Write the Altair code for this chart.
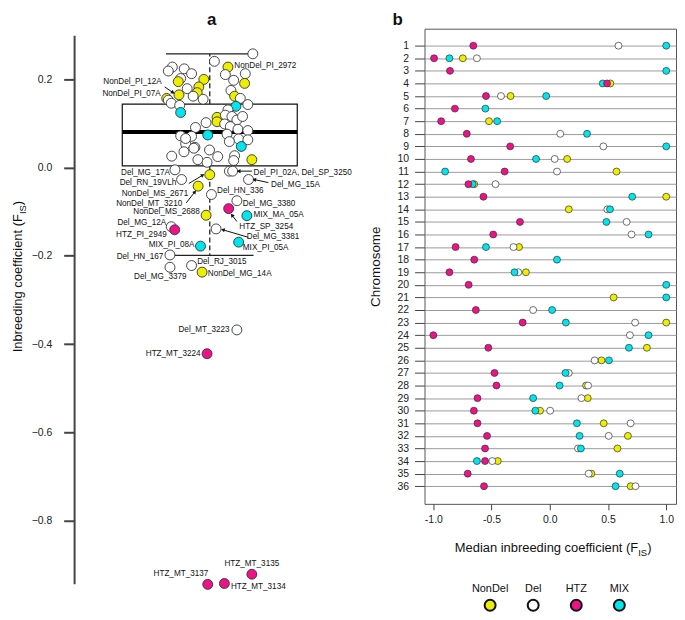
import math
import altair as alt
import pandas as pd

FONT = "Liberation Sans"
GROUPS = ["NonDel", "Del", "HTZ", "MIX"]
COLORS = ["#EEEE00", "#FFFFFF", "#EE1289", "#00E5EE"]
CODES = {"N": "NonDel", "D": "Del", "H": "HTZ", "M": "MIX"}

# ---------------- panel a : individual inbreeding coefficients ----------------
ind_group = [
    "D", "D", "D", "D", "D", "D", "N", "D", "N", "N",
    "N", "N", "D", "N", "D", "D", "D", "D", "D", "M",
    "N", "D", "D", "D", "N", "D", "N", "D", "D", "M",
    "D", "D", "N", "N", "D", "D", "D", "D", "D", "D",
    "D", "D", "D", "D", "D", "D", "D", "D", "M", "D",
    "D", "D", "D", "M", "D", "D", "D", "D", "D", "D",
    "D", "N", "D", "D",
    "D", "D", "D", "N", "D", "N", "D", "D", "D", "H",
    "M", "N", "D", "H", "D", "M", "M", "D", "D", "D",
    "N", "D", "H", "H", "H", "H",
]
ind_jitter = [
    0.492, 0.053, -0.428, -0.474, -0.292, -0.208, -0.068, -0.333, -0.360, -0.352,
    -0.492, -0.125, -0.258, -0.144, -0.190, -0.076, -0.474, -0.440, -0.344, -0.333,
    0.208, 0.178, 0.406, 0.273, 0.398, 0.242, 0.284, 0.349, 0.435, 0.299,
    0.208, -0.042, 0.083, 0.083, 0.178, 0.253, 0.310, 0.375, 0.170, 0.235,
    0.322, 0.435, -0.163, -0.333, -0.208, -0.276, -0.295, -0.170, -0.023, 0.197,
    0.330, 0.435, 0.224, 0.360, -0.003, -0.435, -0.136, -0.031, 0.091, 0.284,
    0.273, 0.481, -0.276, -0.182,
    -0.398, 0.224, 0.261, 0.000, -0.322, -0.133, 0.019, 0.443, 0.310, 0.216,
    0.424, -0.042, -0.440, -0.401, 0.072, -0.106, 0.330, -0.455, -0.208, -0.455,
    -0.088, 0.310, -0.031, 0.481, -0.023, 0.167,
]
ind_fis = [
    0.258, 0.241, 0.228, 0.219, 0.224, 0.213, 0.200, 0.202, 0.195, 0.165,
    0.157, 0.183, 0.179, 0.170, 0.162, 0.155, 0.153, 0.146, 0.141, 0.125,
    0.228, 0.211, 0.213, 0.198, 0.191, 0.175, 0.162, 0.157, 0.143, 0.139,
    0.131, 0.102, 0.114, 0.104, 0.119, 0.116, 0.108, 0.116, 0.099, 0.093,
    0.087, 0.084, 0.091, 0.072, 0.071, 0.054, 0.036, 0.046, 0.074, 0.076,
    0.065, 0.063, 0.059, 0.048, 0.040, 0.026, 0.018, 0.012, 0.025, 0.027,
    0.016, 0.018, 0.066, 0.044,
    -0.005, -0.008, -0.008, -0.016, -0.027, -0.042, -0.061, -0.027, -0.075, -0.093,
    -0.109, -0.108, -0.134, -0.141, -0.139, -0.178, -0.169, -0.198, -0.222, -0.226,
    -0.237, -0.368, -0.422, -0.922, -0.945, -0.943,
]

box_q1, box_median, box_q3 = 0.004, 0.081, 0.144
whisker_lo, whisker_hi = -0.199, 0.258
fis_axis_range = [-0.945, 0.299]
fis_ticks = [-0.8, -0.6, -0.4, -0.2, 0.0, 0.2]

lab_text = ["NonDel_PI_2972", "NonDel_PI_12A", "NonDel_PI_07A", "Del_MG_17A",
            "Del_PI_02A, Del_SP_3250", "Del_RN_19VLh", "NonDel_MS_2671", "NonDel_MT_3210",
            "Del_HN_336", "Del_MG_15A", "Del_MG_3380", "MIX_MA_05A", "HTZ_SP_3254",
            "NonDel_MS_2688", "Del_MG_12A", "HTZ_PI_2949", "Del_MG_3381", "MIX_PI_08A",
            "MIX_PI_05A", "Del_HN_167", "Del_RJ_3015", "Del_MG_3379", "NonDel_MG_14A",
            "Del_MT_3223", "HTZ_MT_3224", "HTZ_MT_3135", "HTZ_MT_3137", "HTZ_MT_3134"]
lab_x = [0.281, -0.549, -0.560, -0.455, 0.500, -0.383, -0.247, -0.315, 0.083, 0.701,
         0.378, 0.500, 0.338, -0.114, -0.497, -0.492, 0.424, -0.174, 0.378, -0.531,
         -0.144, -0.565, -0.023, 0.227, -0.106, 0.481, -0.330, 0.242]
lab_y = [0.2315, 0.195, 0.168, -0.012, -0.012, -0.035, -0.059, -0.082, -0.052, -0.039,
         -0.082, -0.108, -0.134, -0.101, -0.125, -0.152, -0.158, -0.176, -0.183, -0.202,
         -0.215, -0.249, -0.241, -0.368, -0.422, -0.898, -0.922, -0.950]
lab_align = ["left", "right", "right", "right", "left", "right", "right", "right", "left", "left",
             "left", "left", "left", "right", "right", "right", "left", "right", "left", "right",
             "left", "center", "left", "right", "right", "center", "center", "left"]

arr_x1 = [-0.515, 0.481, 0.670, -0.239, -0.269, 0.310, 0.439]
arr_y1 = [0.183, -0.008, -0.034, -0.036, -0.080, -0.122, -0.158]
arr_x2 = [-0.420, 0.330, 0.508, -0.080, -0.170, 0.254, 0.150]
arr_y2 = [0.170, -0.008, -0.027, -0.017, -0.055, -0.108, -0.141]

# ---------------- panel b : median FIS per chromosome ----------------
chromosomes = list(range(1, 37))
fis_nondel = [None, -0.747, None, 0.52, -0.337, None, -0.522, None, None, 0.149,
              0.573, -0.649, 1.0, 0.163, None, None, -0.264, None, -0.205, None,
              0.548, None, 1.0, None, 0.834, 0.444, None, 0.312, 0.326, -0.084,
              0.463, 0.671, 0.581, -0.447, 0.357, 0.694]
fis_del = [0.59, -0.626, None, None, -0.419, None, None, 0.09, 0.46, 0.042,
           0.062, -0.466, None, 0.494, 0.66, 0.702, -0.312, None, -0.27, None,
           None, -0.143, 0.733, 0.688, None, 0.385, 0.163, 0.329, 0.272, 0.003,
           0.694, 0.506, 0.242, -0.494, 0.334, 0.736]
fis_htz = [-0.657, -0.994, -0.857, 0.492, -0.548, -0.815, -0.933, -0.713, -0.34, -0.677,
           -0.388, -0.699, -0.570, None, -0.256, -0.486, -0.809, -0.649, -0.862, -0.697,
           None, -0.635, -0.233, -1.0, -0.528, None, -0.475, -0.458, -0.621, -0.652,
           -0.621, -0.539, -0.556, -0.556, -0.705, -0.565]
fis_mix = [1.0, -0.862, 1.0, 0.455, -0.031, -0.553, -0.452, 0.32, 1.0, -0.118,
           -0.899, -0.663, 0.708, 0.517, 0.486, 0.848, -0.548, 0.062, -0.303, 1.0,
           1.0, 0.02, 0.138, 0.848, 0.68, 0.508, 0.135, 0.084, -0.143, -0.124,
           0.233, 0.256, 0.267, -0.626, 0.601, 0.565]
median_ticks = [-1.0, -0.5, 0.0, 0.5, 1.0]

# ---------------- layout ----------------
W_L, H_L = 290, 559
W_R, H_R = 253, 478
X_A_DOM = [-1.545, 1.75]
Y_A_DOM = [-0.945, 0.315]
BOX_HALF, STAPLE_HALF = 1.0, 0.5

fill_scale = alt.Scale(domain=GROUPS, range=COLORS)
one = pd.DataFrame({"k": [0]})


def txt(text, x, y, size, align="left", baseline="alphabetic", angle=0, weight="normal"):
    return alt.Chart(one).mark_text(
        text=text, fontSize=size, align=align, baseline=baseline, angle=angle,
        fontWeight=weight, font=FONT, color="#111"
    ).encode(x=alt.value(x), y=alt.value(y))


# ---- panel a
xs_a = alt.Scale(domain=X_A_DOM, nice=False, zero=False)
ys_a = alt.Scale(domain=Y_A_DOM, nice=False, zero=False)
ax_a = alt.Axis(values=fis_ticks, format=".1f", domain=False, grid=False, ticks=True,
                tickSize=11, tickWidth=2, tickColor="#444", labelPadding=12,
                labelFontSize=10.5, labelColor="#222", labelFont=FONT, title="")


def XA(f):
    return alt.X(f, type="quantitative", scale=xs_a, axis=None)


def YA(f):
    return alt.Y(f, type="quantitative", scale=ys_a, axis=ax_a)


ind_df = pd.DataFrame({"grp": [CODES[c] for c in ind_group], "jit": ind_jitter, "fis": ind_fis})
box_df = pd.DataFrame({"xl": [-BOX_HALF], "xr": [BOX_HALF], "sl": [-STAPLE_HALF], "sr": [STAPLE_HALF],
                       "c": [0.0], "q1": [box_q1], "med": [box_median], "q3": [box_q3],
                       "lo": [whisker_lo], "hi": [whisker_hi]})
axis_df = pd.DataFrame({"bot": [fis_axis_range[0]], "top": [fis_axis_range[1]]})
lab_df = pd.DataFrame({"lab": lab_text, "lx": lab_x, "ly": lab_y, "al": lab_align})

sx = W_L / (X_A_DOM[1] - X_A_DOM[0])
sy = H_L / (Y_A_DOM[1] - Y_A_DOM[0])
arr_ang = [math.degrees(math.atan2((b - a) * sx, (d - c) * sy)) % 360
           for a, b, c, d in zip(arr_x1, arr_x2, arr_y1, arr_y2)]
arr_df = pd.DataFrame({"x1": arr_x1, "y1": arr_y1, "x2": arr_x2, "y2": arr_y2, "ang": arr_ang})

axis_line = alt.Chart(axis_df).mark_rule(color="#444", strokeWidth=2).encode(
    x=alt.value(0), y=YA("top"), y2=alt.Y2("bot"))
box = alt.Chart(box_df).mark_rect(fillOpacity=0, stroke="#111", strokeWidth=1.2).encode(
    x=XA("xl"), x2=alt.X2("xr"), y=YA("q3"), y2=alt.Y2("q1"))
median = alt.Chart(box_df).mark_rule(color="#000", strokeWidth=4).encode(
    x=XA("xl"), x2=alt.X2("xr"), y=YA("med"))
wh_up = alt.Chart(box_df).mark_rule(color="#222", strokeWidth=1.3, strokeDash=[5, 3]).encode(
    x=XA("c"), y=YA("q3"), y2=alt.Y2("hi"))
wh_dn = alt.Chart(box_df).mark_rule(color="#222", strokeWidth=1.3, strokeDash=[5, 3]).encode(
    x=XA("c"), y=YA("q1"), y2=alt.Y2("lo"))
st_up = alt.Chart(box_df).mark_rule(color="#222", strokeWidth=1.3).encode(
    x=XA("sl"), x2=alt.X2("sr"), y=YA("hi"))
st_dn = alt.Chart(box_df).mark_rule(color="#222", strokeWidth=1.3).encode(
    x=XA("sl"), x2=alt.X2("sr"), y=YA("lo"))
pts_a = alt.Chart(ind_df).mark_circle(size=100, stroke="#333", strokeWidth=0.9, opacity=1).encode(
    x=XA("jit"), y=YA("fis"), fill=alt.Fill("grp:N", scale=fill_scale, legend=None))
arrows = alt.Chart(arr_df).mark_rule(color="#111", strokeWidth=1).encode(
    x=XA("x1"), y=YA("y1"), x2=alt.X2("x2"), y2=alt.Y2("y2"))
heads = alt.Chart(arr_df).mark_point(shape="triangle-up", filled=True, size=18, color="#111",
                                     opacity=1).encode(
    x=XA("x2"), y=YA("y2"), angle=alt.Angle("ang:Q", scale=None))

label_layers = []
for al in ["left", "right", "center"]:
    label_layers.append(
        alt.Chart(lab_df).transform_filter(alt.datum.al == al).mark_text(
            align=al, baseline="middle", fontSize=8.2, font=FONT, color="#111").encode(
            x=XA("lx"), y=YA("ly"), text="lab:N"))

title_a = [
    txt("Inbreeding coefficient (F", -52.5, 186.5, 13, align="right", angle=270),
    txt("IS", -49, 186.5, 9.5, align="left", angle=270),
    txt(")", -52.5, 177.5, 13, align="left", angle=270),
    txt("a", 138, -17, 17, align="center", baseline="top", weight="bold"),
]

left = alt.layer(axis_line, box, wh_up, wh_dn, st_up, st_dn, median, pts_a, arrows, heads,
                 *label_layers, *title_a).properties(width=W_L, height=H_L)

# ---- panel b
rows = []
for g, vals in [("NonDel", fis_nondel), ("Del", fis_del), ("MIX", fis_mix), ("HTZ", fis_htz)]:
    for c, v in zip(chromosomes, vals):
        if v is not None:
            rows.append({"grp": g, "chrom": c, "v": v})
chrom_df = pd.DataFrame(rows)
leg_df = pd.DataFrame({"grp": GROUPS})

xs_b = alt.Scale(domain=[-1.076, 1.084], nice=False, zero=False)
ys_b = alt.Scale(domain=[-0.35, 37.4], reverse=True, nice=False, zero=False)
ax_xb = alt.Axis(values=median_ticks, format=".1f", labelExpr="replace(datum.label, '\u2212', '-')",
                 domain=False, grid=False, tickSize=6, tickColor="#444", labelPadding=5,
                 labelFontSize=10.5, labelColor="#222", labelFont=FONT, title="")
ax_yb = alt.Axis(values=chromosomes, format="d", domain=False, grid=True, gridColor="#9a9a9a",
                 gridWidth=1, tickSize=10, tickColor="#444", labelPadding=6, labelFontSize=10.5,
                 labelColor="#222", labelFont=FONT, labelOverlap=False,
                 title="Chromosome", titleFont=FONT, titleFontSize=13.5, titleFontWeight="normal",
                 titleColor="#111", titleX=-49, titleY=H_R / 2, titleAngle=270,
                 titleBaseline="middle", titleAlign="center")

pts_b = alt.Chart(chrom_df).mark_circle(size=49, stroke="#333", strokeWidth=0.7, opacity=1).encode(
    x=alt.X("v:Q", scale=xs_b, axis=ax_xb),
    y=alt.Y("chrom:Q", scale=ys_b, axis=ax_yb),
    fill=alt.Fill("grp:N", scale=fill_scale, legend=None))

leg_x = alt.X("grp:N", scale=alt.Scale(type="point", domain=GROUPS, range=[66, 196], padding=0),
              axis=None)
leg_pts = alt.Chart(leg_df).mark_circle(size=121, stroke="#111", strokeWidth=2, opacity=1).encode(
    x=leg_x, y=alt.value(580), fill=alt.Fill("grp:N", scale=fill_scale, legend=None))
leg_txt = alt.Chart(leg_df).mark_text(fontSize=11, font=FONT, baseline="middle", color="#111").encode(
    x=leg_x, y=alt.value(564), text="grp:N")

title_b = [
    txt("Median inbreeding coefficient (F", 215, 526.5, 13, align="right"),
    txt("IS", 215, 530, 9.5, align="left"),
    txt(")", 224, 526.5, 13, align="left"),
    txt("b", -27, -17, 17, align="center", baseline="top", weight="bold"),
]

right = alt.layer(pts_b, leg_pts, leg_txt, *title_b).resolve_scale(x="independent").properties(
    width=W_R, height=H_R, view=alt.ViewBackground(stroke="#555", strokeWidth=1))

chart = alt.hconcat(left, right, spacing=62, bounds="flush").properties(
    padding={"left": 4, "top": 0, "right": 0, "bottom": 0}
).configure(font=FONT).configure_view(stroke="transparent")

chart.save("out.html", embed_options={"renderer": "svg", "actions": False})
